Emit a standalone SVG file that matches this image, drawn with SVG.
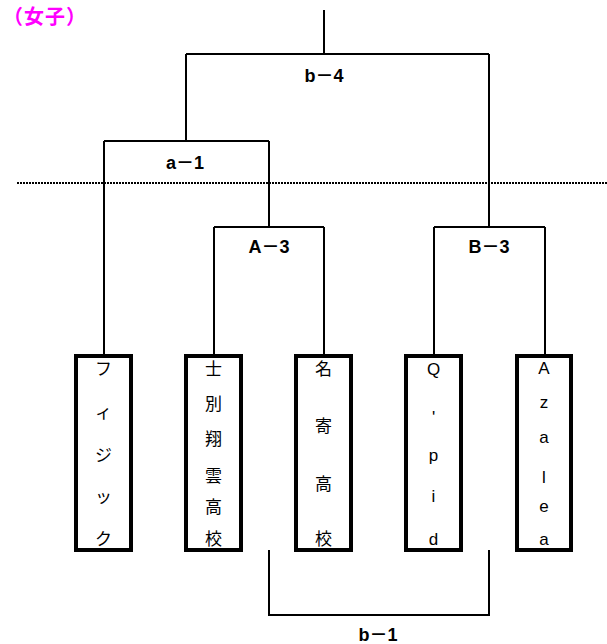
<svg xmlns="http://www.w3.org/2000/svg" width="607" height="644" viewBox="0 0 607 644">
<style>
.ln{fill:none;stroke:#000;stroke-width:2}
.dot{fill:none;stroke:#000;stroke-width:2;stroke-dasharray:2 1}
.box{fill:#fff;stroke:#000;stroke-width:4}
.lbl{font-family:"Liberation Sans","Noto Sans CJK JP",sans-serif;font-weight:bold;font-size:18px;text-anchor:middle;fill:#000}
.t{font-family:"Liberation Sans","Noto Sans CJK JP",sans-serif;font-size:17px;text-anchor:middle;fill:#000}
.title{font-family:"Noto Sans CJK JP",sans-serif;font-weight:bold;font-size:20px;fill:#ff00ff}
</style>
<rect width="607" height="644" fill="#fff"/>
<text class="title" x="3" y="23.5" letter-spacing="1">（女子）</text>
<g id="connectors">
<path class="ln" d="M324 10V54M186 54H489M186 54V141M104 141H269M104 141V354M269 141V227M214 227H324M214 227V354M324 227V354M489 54V227M434 227H545M434 227V354M545 227V354"/>
<path class="ln" d="M269 550V615H489V550"/>
<path class="dot" d="M17 183H607"/>
<text class="lbl" x="324" y="82">b－4</text>
<text class="lbl" x="185" y="169">a－1</text>
<text class="lbl" x="269" y="253">A－3</text>
<text class="lbl" x="489" y="253">B－3</text>
<text class="lbl" x="378" y="641">b－1</text>
</g>
<g id="team1">
<rect class="box" x="76" y="356" width="55" height="194"/>
<text class="t" x="103.5" y="375">フ</text><text class="t" x="103.5" y="418">ィ</text><text class="t" x="103.5" y="461">ジ</text><text class="t" x="103.5" y="503">ッ</text><text class="t" x="103.5" y="545">ク</text>
</g>
<g id="team2">
<rect class="box" x="186" y="356" width="55" height="194"/>
<text class="t" x="213.5" y="375">士</text><text class="t" x="213.5" y="410">別</text><text class="t" x="213.5" y="445">翔</text><text class="t" x="213.5" y="482">雲</text><text class="t" x="213.5" y="513">高</text><text class="t" x="213.5" y="545">校</text>
</g>
<g id="team3">
<rect class="box" x="296" y="356" width="55" height="194"/>
<text class="t" x="323.5" y="375">名</text><text class="t" x="323.5" y="432">寄</text><text class="t" x="323.5" y="490">高</text><text class="t" x="323.5" y="545">校</text>
</g>
<g id="team4">
<rect class="box" x="406" y="356" width="55" height="194"/>
<text class="t" x="433.5" y="375">Q</text><text class="t" x="433.5" y="423">'</text><text class="t" x="433.5" y="461">p</text><text class="t" x="433.5" y="502">i</text><text class="t" x="433.5" y="545">d</text>
</g>
<g id="team5">
<rect class="box" x="517" y="356" width="54" height="194"/>
<text class="t" x="544" y="374">A</text><text class="t" x="544" y="408">z</text><text class="t" x="544" y="443">a</text><text class="t" x="544" y="483">l</text><text class="t" x="544" y="512">e</text><text class="t" x="544" y="545">a</text>
</g>
</svg>
